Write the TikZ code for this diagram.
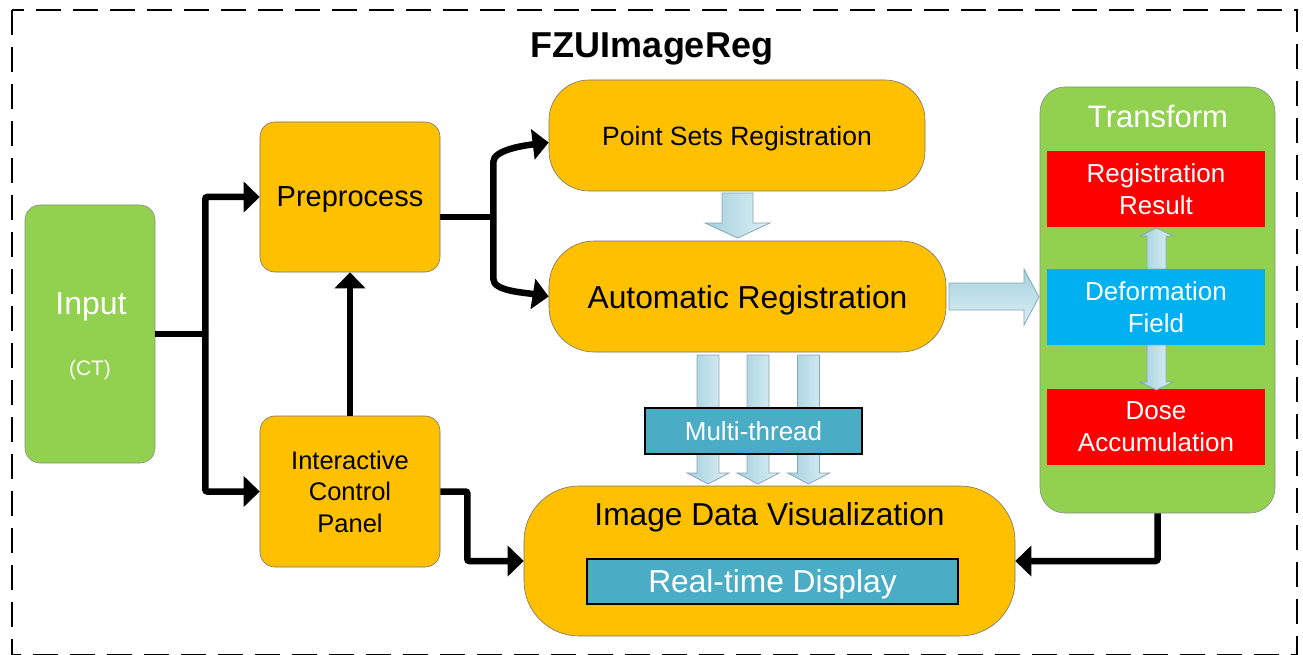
\documentclass[tikz,border=0pt]{standalone}
\usepackage{fontspec}
\setmainfont{Liberation Sans}
\usetikzlibrary{arrows.meta,calc}
\definecolor{orng}{HTML}{FFC000}
\definecolor{grn}{HTML}{92D050}
\definecolor{rd}{HTML}{FF0000}
\definecolor{cyn}{HTML}{00B0F0}
\definecolor{tealbox}{HTML}{4BACC6}
\definecolor{bal}{HTML}{A3D0DD}
\definecolor{bar}{HTML}{DDF0F5}
\definecolor{bao}{HTML}{8AA6B2}
\begin{document}
\begin{tikzpicture}[x=1pt,y=-1pt,
  box/.style={draw=black!55, line width=0.6pt, inner sep=0pt, align=center},
  orbox/.style={box, fill=orng, text=black},
  grbox/.style={box, fill=grn, text=white, draw=black!45},
  rdbox/.style={box, fill=rd, text=white, draw=none},
  cybox/.style={box, fill=cyn, text=white, draw=none},
  tlbox/.style={box, fill=tealbox, text=white, draw=black, line width=1.6pt},
  txt/.style={inner sep=0pt, align=center},
  nd/.style={text depth=0pt},
  fs/.style={font=\fontsize{#1}{#1}\selectfont},
  conn/.style={draw=black, line width=6.5pt, -{Triangle[length=16pt,width=30pt]}},
  plain/.style={draw=black, line width=6.5pt},
  barrow/.style={draw=bao, line width=0.8pt, left color=bal, right color=bar},
  barrowh/.style={draw=bao, line width=0.8pt, top color=bal, bottom color=bar},
]
\useasboundingbox (0,0) rectangle (1303,655);
\fill[white] (0,0) rectangle (1303,655);

% frame
\draw[line width=2.5pt, dash pattern=on 25pt off 12pt] (12,10) rectangle (1297,655);

% title
\node[txt, nd, font=\fontsize{36}{40}\selectfont\bfseries] (title) at (652,45) {FZUImageReg};

% boxes
\node[grbox, rounded corners=15pt, minimum width=130pt, minimum height=258pt] (in) at (90,334) {};
\node[txt, nd, text=white, fs=32] (inlbl) at (91,303) {Input};
\node[txt, text=white, fs=21] (ct) at (90,370) {(CT)};

\node[orbox, nd, rounded corners=15pt, minimum width=180pt, minimum height=150pt, fs=29] (pre) at (350,197) {Preprocess};
\node[orbox, rounded corners=15pt, minimum width=180pt, minimum height=151pt,
      font=\fontsize{25.5}{31.5}\selectfont] (icp) at (350,491.5) {Interactive\\Control\\Panel};

\node[orbox, nd, rounded corners=40pt, minimum width=376pt, minimum height=111pt, fs=26.5] (pts) at (737,135.5) {Point Sets Registration};
\node[orbox, nd, rounded corners=45pt, minimum width=397pt, minimum height=111pt, fs=31.8] (aut) at (747.5,296.5) {Automatic Registration};
\node[orbox, rounded corners=55pt, minimum width=491pt, minimum height=150pt] (idv) at (769.5,561) {};
\node[txt, nd, fs=31.7] (idvt) at (769.5,514) {Image Data Visualization};
\node[tlbox, nd, minimum width=371pt, minimum height=45pt, fs=31.7] (rtd) at (772.5,581.5) {Real-time Display};

\node[grbox, rounded corners=25pt, minimum width=235pt, minimum height=426pt] (tr) at (1157.5,300) {};
\node[txt, text=white, fs=31] (trt) at (1158,116) {Transform};
\node[rdbox, minimum width=218pt, minimum height=76pt, font=\fontsize{26}{32}\selectfont] (rr) at (1156,189) {Registration\\Result};
\node[cybox, minimum width=218pt, minimum height=76pt, font=\fontsize{26}{32}\selectfont] (df) at (1156,307) {Deformation\\Field};
\node[rdbox, minimum width=218pt, minimum height=76pt, font=\fontsize{26}{32}\selectfont] (da) at (1156,427) {Dose\\Accumulation};

% block arrows
% Point Sets -> Automatic
\path[barrow] (722,193) -- (753,193) -- (753,223) -- (770,223) -- (737.5,238) -- (705,223) -- (722,223) -- cycle;
% three thread arrows
\foreach \cx in {708,758,808.5}{
  \path[barrow] ({\cx-11},355) -- ({\cx+11},355) -- ({\cx+11},473) -- ({\cx+21},473) -- (\cx,484) -- ({\cx-21},473) -- ({\cx-11},473) -- cycle;
}
\node[tlbox, minimum width=217pt, minimum height=46pt, fs=26] (mt) at (753.5,431) {Multi-thread};
% Automatic -> Transform
\path[barrowh] (949,283) -- (1024,283) -- (1024,269) -- (1039,297) -- (1024,325) -- (1024,310) -- (949,310) -- cycle;
% Deformation -> Registration Result (up)
\path[barrow] (1147,269) -- (1147,236) -- (1140,236) -- (1156.5,228) -- (1173,236) -- (1166,236) -- (1166,269) -- cycle;
% Deformation -> Dose (down)
\path[barrow] (1147,345) -- (1166,345) -- (1166,382) -- (1173,382) -- (1156.5,390) -- (1140,382) -- (1147,382) -- cycle;

% connectors
\coordinate (j1) at ($(in.east)+(50,0)$);
\draw[plain] (in.east) -- (j1);
\draw[conn, rounded corners=2pt] (j1) |- (pre.west);
\draw[conn, rounded corners=2pt] (j1) |- (icp.west);
\draw[conn] (icp.north) -- (pre.south);

\coordinate (j2) at ($(pre.east)+(53,20)$);
\draw[plain] ($(pre.east)+(0,20)$) -- (j2);
\draw[conn] (j2) -- ++(0,-55) .. controls +(0,-12) and +(-25,3) .. ($(pts.west)+(0,7)$);
\draw[conn] (j2) -- ++(0,62) .. controls +(0,12) and +(-25,-4) .. (aut.west);

\draw[conn, rounded corners=2pt] (icp.east) -- ++(27,0) |- (idv.west);
\draw[conn, rounded corners=2pt] (tr.south) |- (idv.east);
\end{tikzpicture}
\end{document}
